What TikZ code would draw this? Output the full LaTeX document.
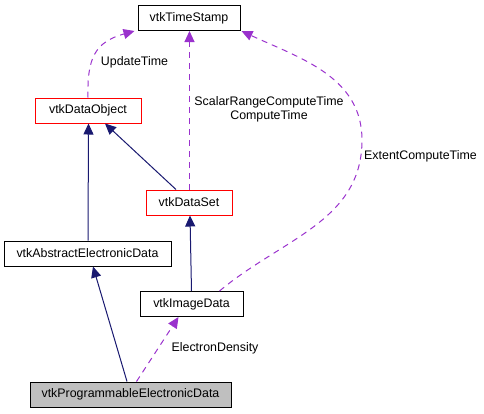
\documentclass[tikz,border=0pt]{standalone}
\usepackage{fontspec}
\setmainfont{Liberation Sans}
\usetikzlibrary{arrows.meta}
\definecolor{edgeblue}{HTML}{191970}
\definecolor{edgeorchid}{HTML}{9A32CD}
\definecolor{boxgrey}{HTML}{BFBFBF}

\begin{document}
\begin{tikzpicture}[x=1pt,y=-1pt,
cls/.style={draw=black,fill=white,line width=1pt,minimum height=25pt,inner sep=0pt,font=\fontsize{12.4}{14}\selectfont},
redcls/.style={cls,draw=red},
inherit/.style={draw=edgeblue,line width=1pt,-{Triangle[length=11pt,width=10pt]}},
usage/.style={draw=edgeorchid,line width=1pt,dash pattern=on 6pt off 5pt,-{Triangle[length=11pt,width=10pt]}},
lbl/.style={font=\fontsize{12.4}{14}\selectfont,inner sep=0pt,align=center}]
\useasboundingbox (0,0) rectangle (484,413);
\node[cls,minimum width=102pt] (ts) at (189,18) {vtkTimeStamp};
\node[redcls,minimum width=106pt] (dobj) at (88,110.5) {vtkDataObject};
\node[redcls,minimum width=86pt] (dset) at (189,202.5) {vtkDataSet};
\node[cls,minimum width=167pt] (aed) at (87.5,253.5) {vtkAbstractElectronicData};
\node[cls,minimum width=103pt] (img) at (191.5,304) {vtkImageData};
\node[cls,fill=boxgrey,minimum width=201pt] (ped) at (130.5,394.5) {vtkProgrammableElectronicData};
% inheritance
\draw[inherit] ([xshift=0.5pt]aed.north) -- ([xshift=0.5pt]dobj.south);
\draw[inherit] ([xshift=-13pt]dset.north) -- ([xshift=17pt]dobj.south);
\draw[inherit] (img.north) -- ([xshift=1pt]dset.south);
\draw[inherit] ([xshift=-3.5pt]ped.north) -- ([xshift=5.5pt]aed.south);
% usage
\draw[usage] (dobj.north) .. controls (87,58) and (95,42) .. ([xshift=-3pt]ts.south west);
\draw[usage] ([xshift=0.5pt]dset.north) -- ([xshift=0.5pt]ts.south);
\draw[usage] ([xshift=28pt]img.north) to[out=40,in=-90] (362,140) to[out=90,in=-25] ([xshift=1pt]ts.south east);
\draw[usage] ([xshift=6pt]ped.north) -- ([xshift=-13pt]img.south);
\node[lbl] (lupd) at (134.5,62) {UpdateTime};
\node[lbl] (lscal) at (269,109) {ScalarRangeComputeTime\\ComputeTime};
\node[lbl,anchor=west] (lext) at (364,156) {ExtentComputeTime};
\node[lbl] (lel) at (215,348) {ElectronDensity};
\end{tikzpicture}
\end{document}
